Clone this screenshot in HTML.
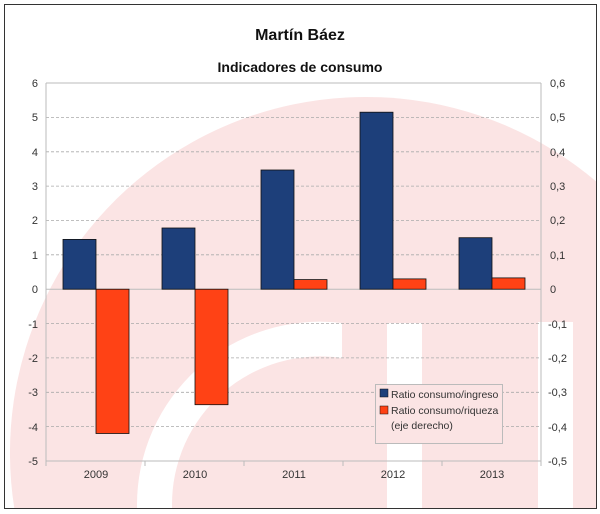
<!DOCTYPE html>
<html><head><meta charset="utf-8"><style>
html,body{margin:0;padding:0;background:#fff;width:600px;height:514px;overflow:hidden;}
svg{display:block;position:absolute;left:0;top:0;overflow:hidden;font-family:"Liberation Sans",sans-serif;}
</style></head><body>
<svg width="600" height="514" viewBox="0 0 600 514" xmlns="http://www.w3.org/2000/svg">
<rect width="600" height="514" fill="#fff"/>
<path d="M597 182.1 A356 356 0 0 0 14.4 509 L597 509 Z" fill="#fbe4e4"/>
<path d="M342 323 L342 358 A148 148 0 0 0 172 506 L172 509 L137 509 L137 506 A183 183 0 0 1 342 323 Z" fill="#fff"/>
<rect x="387" y="323" width="35" height="186" fill="#fff"/>
<rect x="538" y="322" width="35" height="187" fill="#fff"/>
<rect x="4.5" y="4.5" width="592" height="504" fill="none" stroke="#333" stroke-width="1"/>
<text x="300" y="40" text-anchor="middle" font-size="16" font-weight="bold" fill="#111">Martín Báez</text>
<text x="300" y="72" text-anchor="middle" font-size="14" font-weight="bold" fill="#111">Indicadores de consumo</text>
<g stroke="#aaa" stroke-width="0.8" stroke-dasharray="3,2">
<line x1="46" y1="117.4" x2="541" y2="117.4"/>
<line x1="46" y1="151.8" x2="541" y2="151.8"/>
<line x1="46" y1="186.1" x2="541" y2="186.1"/>
<line x1="46" y1="220.5" x2="541" y2="220.5"/>
<line x1="46" y1="254.8" x2="541" y2="254.8"/>
<line x1="46" y1="323.6" x2="541" y2="323.6"/>
<line x1="46" y1="357.9" x2="541" y2="357.9"/>
<line x1="46" y1="392.3" x2="541" y2="392.3"/>
<line x1="46" y1="426.6" x2="541" y2="426.6"/>
</g>
<g stroke="#bbb" stroke-width="1">
<line x1="46" y1="83" x2="541" y2="83"/>
<line x1="46" y1="289.2" x2="541" y2="289.2"/>
<line x1="46" y1="83" x2="46" y2="461"/>
<line x1="541" y1="83" x2="541" y2="461"/>
<line x1="46" y1="461" x2="541" y2="461"/>
<line x1="46" y1="461" x2="46" y2="466"/><line x1="145" y1="461" x2="145" y2="466"/><line x1="244" y1="461" x2="244" y2="466"/><line x1="343" y1="461" x2="343" y2="466"/><line x1="442" y1="461" x2="442" y2="466"/><line x1="541" y1="461" x2="541" y2="466"/>
</g>
<g stroke="#111" stroke-width="0.8">
<rect x="63" y="239.4" width="33" height="49.8" fill="#1d3f7a"/>
<rect x="96" y="289.2" width="33" height="144.3" fill="#ff4215"/>
<rect x="162" y="228" width="33" height="61.2" fill="#1d3f7a"/>
<rect x="195" y="289.2" width="33" height="115.5" fill="#ff4215"/>
<rect x="261" y="170" width="33" height="119.2" fill="#1d3f7a"/>
<rect x="294" y="279.6" width="33" height="9.6" fill="#ff4215"/>
<rect x="360" y="112.2" width="33" height="177" fill="#1d3f7a"/>
<rect x="393" y="278.9" width="33" height="10.3" fill="#ff4215"/>
<rect x="459" y="237.7" width="33" height="51.5" fill="#1d3f7a"/>
<rect x="492" y="277.9" width="33" height="11.3" fill="#ff4215"/>
</g>
<g font-size="11" fill="#333" text-anchor="end">
<text x="38" y="87">6</text><text x="38" y="121">5</text><text x="38" y="156">4</text><text x="38" y="190">3</text><text x="38" y="224">2</text><text x="38" y="259">1</text><text x="38" y="293">0</text><text x="38" y="328">-1</text><text x="38" y="362">-2</text><text x="38" y="396">-3</text><text x="38" y="431">-4</text><text x="38" y="465">-5</text>
</g>
<g font-size="11" fill="#333">
<text x="550" y="87">0,6</text><text x="550" y="121">0,5</text><text x="550" y="156">0,4</text><text x="550" y="190">0,3</text><text x="550" y="224">0,2</text><text x="550" y="259">0,1</text><text x="550" y="293">0</text><text x="548" y="328">-0,1</text><text x="548" y="362">-0,2</text><text x="548" y="396">-0,3</text><text x="548" y="431">-0,4</text><text x="548" y="465">-0,5</text>
</g>
<g font-size="11" fill="#333" text-anchor="middle">
<text x="96" y="478">2009</text><text x="195" y="478">2010</text><text x="294" y="478">2011</text><text x="393" y="478">2012</text><text x="492" y="478">2013</text>
</g>
<rect x="375.5" y="384.5" width="127" height="59" fill="#fbe4e4" stroke="#bbb" stroke-width="1"/>
<rect x="380" y="389" width="8" height="8" fill="#1d3f7a" stroke="#111" stroke-width="0.5"/>
<rect x="380" y="406" width="8" height="8" fill="#ff4215" stroke="#111" stroke-width="0.5"/>
<g font-size="10.5" fill="#333">
<text x="391" y="398">Ratio consumo/ingreso</text>
<text x="391" y="414">Ratio consumo/riqueza</text>
<text x="391" y="429">(eje derecho)</text>
</g>
</svg>
</body></html>
